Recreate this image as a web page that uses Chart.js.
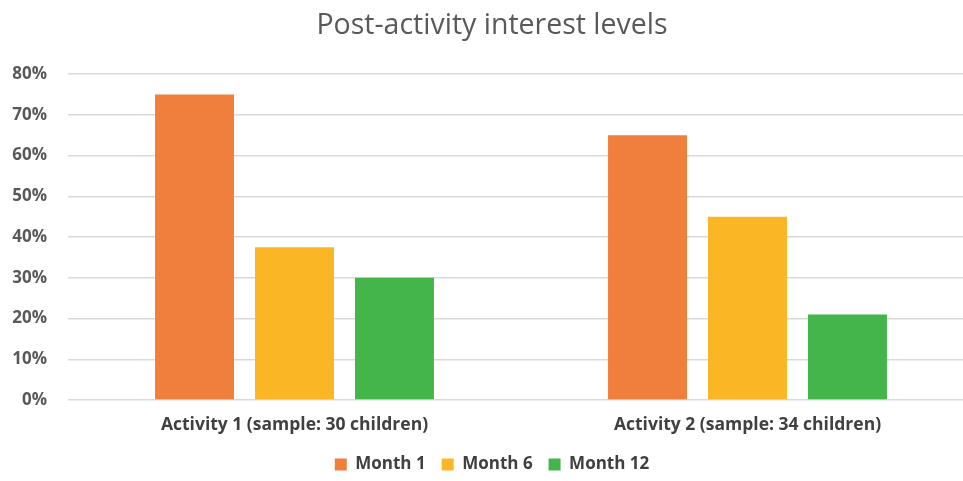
<!DOCTYPE html>
<html>
<head>
<meta charset="utf-8">
<script src="https://cdn.jsdelivr.net/npm/chart.js@4"></script>
<style>
  html, body { margin: 0; padding: 0; background: #fff; overflow: hidden; }
  #wrap { width: 1000px; height: 481px; }
</style>
</head>
<body>
<div id="wrap"><canvas id="interest"></canvas></div>
<script>
var categories = ['Activity 1 (sample: 30 children)', 'Activity 2 (sample: 34 children)'];
var month1 = [75, 65];
var month6 = [37.5, 45];
var month12 = [30, 21];
var yTicks = [0, 10, 20, 30, 40, 50, 60, 70, 80];

var interest = document.getElementById('interest');
var chart = new Chart(interest, {
    type: 'bar',
    data: {
        labels: categories,
        datasets: [{
            label: 'Month 1',
            data: month1,
            backgroundColor: '#F07E3D',
        }, {
            label: 'Month 6',
            data: month6,
            backgroundColor: '#FAB624',
        }, {
            label: 'Month 12',
            data: month12,
            backgroundColor: '#43B54B',
        }]
    },
    options: {
        responsive: true,
        maintainAspectRatio: false,
        animation: false,
        categoryPercentage: 0.662,
        barPercentage: 0.79,
        layout: {
            padding: { left: 10, right: 26, top: 9, bottom: -2 }
        },
        plugins: {
            title: {
                display: true,
                text: 'Post-activity interest levels',
                color: '#595959',
                font: { family: 'Open Sans', size: 28.5, weight: 'normal' },
                padding: { top: 0, bottom: 31 }
            },
            legend: {
                position: 'bottom',
                labels: {
                    color: '#404040',
                    font: { family: 'Open Sans', size: 17, weight: 'bold' },
                    boxWidth: 12,
                    boxHeight: 12,
                    padding: 16
                }
            },
            tooltip: { enabled: false }
        },
        scales: {
            x: {
                grid: { display: false },
                border: { display: false },
                afterFit: function (axis) {
                    axis.height = 40;
                },
                ticks: {
                    color: '#404040',
                    font: { family: 'Open Sans', size: 17.5, weight: 'bold' },
                    padding: 7
                }
            },
            y: {
                min: 0,
                max: 80,
                afterBuildTicks: function (axis) {
                    axis.ticks = yTicks.map(function (v) { return { value: v }; });
                },
                afterFit: function (axis) {
                    axis.width = 58;
                },
                grid: { color: '#D9D9D9', lineWidth: 1.5, drawTicks: false },
                border: { display: false },
                ticks: {
                    color: '#595959',
                    font: { family: 'Open Sans', size: 17, weight: 'bold' },
                    padding: 21,
                    callback: function (value) {
                        return value + '%';
                    }
                }
            }
        }
    }
});
</script>
</body>
</html>
